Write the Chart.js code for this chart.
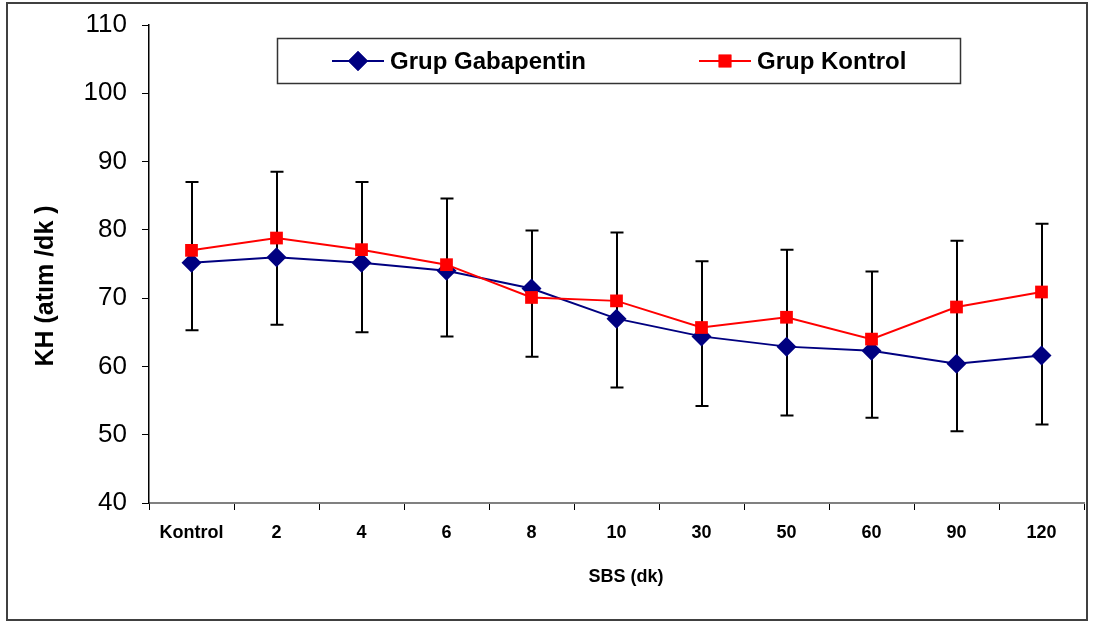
<!DOCTYPE html>
<html>
<head>
<meta charset="utf-8">
<script src="https://cdn.jsdelivr.net/npm/chart.js@4/dist/chart.umd.min.js"></script>
<style>
  html, body { margin: 0; padding: 0; background: #fff; }
</style>
</head>
<body>
<canvas id="chart" width="1095" height="624"></canvas>
<script>
// ---------- DATA ----------

const categories = ["Kontrol", "2", "4", "6", "8", "10", "30", "50", "60", "90", "120"];
const gabapentin = [75.2, 76.0, 75.2, 74.0, 71.4, 67.0, 64.4, 62.9, 62.3, 60.4, 61.6];
const kontrol = [77.0, 78.8, 77.1, 74.9, 70.1, 69.6, 65.7, 67.2, 64.0, 68.7, 70.9];
// whiskers: top end (Kontrol + SD), bottom end (Gabapentin - SD)
const errorTop = [87.0, 88.5, 87.0, 84.6, 79.9, 79.6, 75.4, 77.1, 73.9, 78.4, 80.9];
const errorBottom = [65.3, 66.1, 65.0, 64.4, 61.4, 56.9, 54.2, 52.8, 52.5, 50.5, 51.5];
const yMin = 40, yMax = 110, yStep = 10;

const seriesNames = ["Grup Gabapentin", "Grup Kontrol"];
const yTitle = "KH (atım /dk )";
const xTitle = "SBS (dk)";

const FONT = '"Liberation Sans", Arial, sans-serif';
const NAVY = "#000080";
const RED = "#ff0000";

// ---------- PLUGINS ----------

const framePlugin = {
  id: "frame",
  beforeDraw(chart) {
    const ctx = chart.ctx;
    ctx.save();
    ctx.fillStyle = "#fff";
    ctx.fillRect(0, 0, chart.width, chart.height);
    ctx.strokeStyle = "#404040";
    ctx.lineWidth = 2;
    ctx.strokeRect(7, 3, chart.width - 15, chart.height - 7);
    ctx.restore();
  }
};

const errorBarPlugin = {
  id: "errorBars",
  beforeDatasetsDraw(chart) {
    const ctx = chart.ctx;
    const xs = chart.scales.x;
    const ys = chart.scales.y;
    ctx.save();
    ctx.strokeStyle = "#000";
    ctx.lineWidth = 2;
    categories.forEach((c, i) => {
      const x = Math.round(xs.getPixelForValue(i));
      const yt = ys.getPixelForValue(errorTop[i]);
      const yb = ys.getPixelForValue(errorBottom[i]);
      ctx.beginPath();
      ctx.moveTo(x, yt);
      ctx.lineTo(x, yb);
      ctx.moveTo(x - 6.5, yt);
      ctx.lineTo(x + 6.5, yt);
      ctx.moveTo(x - 6.5, yb);
      ctx.lineTo(x + 6.5, yb);
      ctx.stroke();
    });
    ctx.restore();
  }
};

const decorPlugin = {
  id: "decor",
  afterDraw(chart) {
    const ctx = chart.ctx;
    ctx.save();

    // axis titles
    ctx.fillStyle = "#000";
    ctx.font = "bold 25px " + FONT;
    ctx.textAlign = "center";
    ctx.textBaseline = "middle";
    ctx.save();
    ctx.translate(46, 286);
    ctx.rotate(-Math.PI / 2);
    ctx.fillText(yTitle, 0, 0);
    ctx.restore();

    ctx.font = "bold 18px " + FONT;
    ctx.fillText(xTitle, 626, 577);

    // legend box
    ctx.strokeStyle = "#333";
    ctx.lineWidth = 1.5;
    ctx.strokeRect(277.5, 38.5, 683, 45);

    const items = [
      { x: 332, color: NAVY, style: "rectRot", radius: 10 },
      { x: 699, color: RED, style: "rect", radius: 9 }
    ];
    items.forEach((it, i) => {
      const ly = 61;
      ctx.strokeStyle = it.color;
      ctx.lineWidth = 2;
      ctx.beginPath();
      ctx.moveTo(it.x, ly);
      ctx.lineTo(it.x + 52, ly);
      ctx.stroke();
      ctx.fillStyle = it.color;
      Chart.helpers.drawPoint(ctx, { pointStyle: it.style, radius: it.radius, rotation: 0, borderWidth: 0 }, it.x + 26, ly);
      ctx.fill();
      ctx.fillStyle = "#000";
      ctx.font = "bold 24px " + FONT;
      ctx.textAlign = "left";
      ctx.fillText(seriesNames[i], it.x + 58, ly + 1);
    });

    ctx.restore();
  }
};

// ---------- CHART ----------

new Chart(document.getElementById("chart"), {
  type: "line",
  data: {
    labels: categories,
    datasets: [
      {
        label: seriesNames[0],
        data: gabapentin,
        borderColor: NAVY,
        backgroundColor: NAVY,
        borderWidth: 2,
        pointStyle: "rectRot",
        pointRadius: 10,
        pointBorderWidth: 0,
        tension: 0,
        order: 1
      },
      {
        label: seriesNames[1],
        data: kontrol,
        borderColor: RED,
        backgroundColor: RED,
        borderWidth: 2,
        pointStyle: "rect",
        pointRadius: 9,
        pointBorderWidth: 0,
        tension: 0,
        order: 0
      }
    ]
  },
  options: {
    responsive: false,
    animation: false,
    devicePixelRatio: 1,
    layout: { autoPadding: false, padding: { left: 0, top: 25, right: 11, bottom: 0 } },
    plugins: {
      legend: { display: false },
      tooltip: { enabled: false }
    },
    scales: {
      x: {
        offset: true,
        afterFit(scale) { scale.height = 121; },
        grid: {
          offset: true,
          drawOnChartArea: false,
          drawTicks: true,
          tickLength: 7,
          tickColor: "#000",
          tickWidth: 1
        },
        border: { color: "#808080", width: 2 },
        ticks: {
          color: "#000",
          font: { family: FONT, size: 18, weight: "bold" },
          padding: 12,
          maxRotation: 0,
          autoSkip: false
        }
      },
      y: {
        min: yMin,
        max: yMax,
        afterFit(scale) {
          scale.width = 149;
          // label padding would push the top of the plot down to ~31px
          scale.paddingTop = 0;
          scale.paddingBottom = 0;
        },
        grid: {
          drawOnChartArea: false,
          drawTicks: true,
          tickLength: 7,
          tickColor: "#000",
          tickWidth: 1
        },
        border: { color: "#000", width: 1.5 },
        ticks: {
          stepSize: yStep,
          color: "#000",
          font: { family: FONT, size: 26 },
          padding: 15
        }
      }
    }
  },
  plugins: [framePlugin, errorBarPlugin, decorPlugin]
});
</script>
</body>
</html>
